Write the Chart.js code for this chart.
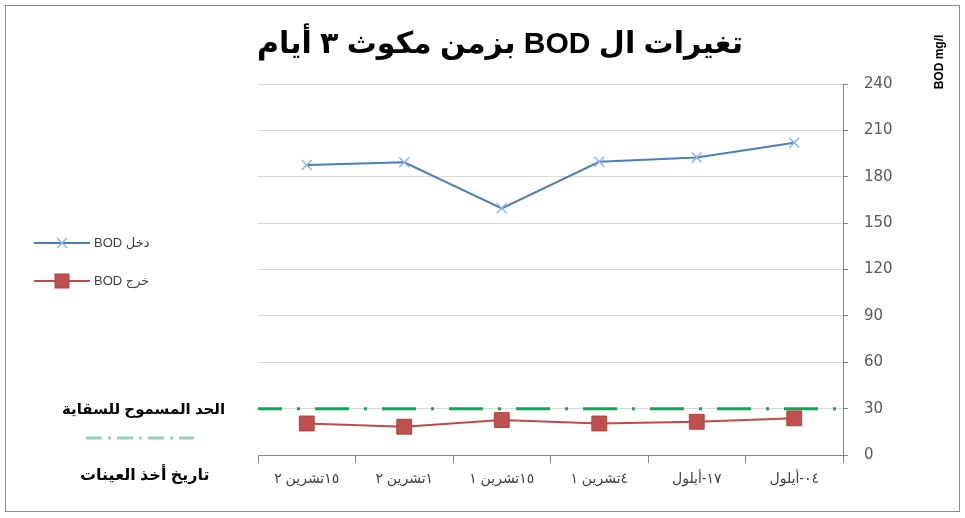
<!DOCTYPE html>
<html><head><meta charset="utf-8">
<script src="https://cdn.jsdelivr.net/npm/chart.js@4/dist/chart.umd.min.js"></script>
<style>
html,body{margin:0;padding:0;background:#fff;}
#wrap{position:relative;width:965px;height:518px;overflow:hidden;font-family:"Liberation Sans","DejaVu Sans",Arial,sans-serif;}
#frame{position:absolute;left:5px;top:5px;width:955px;height:507px;border:1px solid #8c8c8c;box-sizing:border-box;}
canvas{position:absolute;left:0;top:0;}
.t{position:absolute;white-space:nowrap;}
#title{left:190px;width:620px;top:25px;text-align:center;font-size:30px;font-weight:bold;color:#000;}
#unit{left:904px;top:55px;width:70px;font-size:12px;font-weight:bold;transform:rotate(-90deg);text-align:center;color:#000;}
.leg{font-size:13px;color:#404040;}
.side{font-weight:bold;color:#000;}
</style></head>
<body><div id="wrap">
<div id="frame"></div>
<canvas id="c" width="965" height="518"></canvas>
<div class="t" id="title" dir="rtl">تغيرات ال BOD بزمن مكوث ٣ أيام</div>
<div class="t" id="unit">BOD mg/l</div>
<svg class="t" style="left:30px;top:235px" width="62" height="60">
 <line x1="4" y1="8" x2="60" y2="8" stroke="#4a7ebb" stroke-width="2"/>
 <path d="M27 3 L37 13 M37 3 L27 13" stroke="#8eb4e3" stroke-width="1.5"/>
 <line x1="4" y1="46" x2="60" y2="46" stroke="#be4b48" stroke-width="2"/>
 <rect x="25" y="39" width="14" height="14" fill="#c0504d" stroke="#b04340"/>
</svg>
<div class="t leg" id="l1" dir="rtl" style="left:94px;top:235px">دخل BOD</div>
<div class="t leg" id="l2" dir="rtl" style="left:94px;top:273px">خرج BOD</div>
<div class="t side" dir="rtl" style="left:62px;top:400px;font-size:15px">الحد المسموح للسقاية</div>
<svg class="t" style="left:86px;top:434px" width="110" height="8">
 <line x1="0" y1="4" x2="108" y2="4" stroke="#8fd3c3" stroke-width="3" stroke-dasharray="16,6,3,6"/>
</svg>
<div class="t side" dir="rtl" style="left:80px;top:465px;font-size:16px">تاريخ أخذ العينات</div>
</div>
<script>
// chronological order (axis is drawn reversed, right to left)
const categories = ["٠٤-أيلول", "١٧-أيلول", "٤تشرين ١", "١٥تشرين ١", "١تشرين ٢", "١٥تشرين ٢"];
const bodIn  = [202, 192.5, 189.7, 159.6, 189.3, 187.6];
const bodOut = [23.7, 21.5, 20.4, 22.6, 18.3, 20.4];
const limit  = [30, 30, 30, 30, 30, 30];
const yTicks = [0, 30, 60, 90, 120, 150, 180, 210, 240];
const seriesLabels = ["دخل BOD", "خرج BOD", "الحد المسموح للسقاية"];

new Chart(document.getElementById('c'), {
  type: 'line',
  data: {
    labels: categories,
    datasets: [
      {label: seriesLabels[2], data: limit, xAxisID: 'x2', borderColor: '#00b050', borderWidth: 3,
       borderDash: [34, 15, 3, 15], borderDashOffset: 10, pointRadius: 0, order: 3},
      {label: seriesLabels[0], data: bodIn, borderColor: '#4a7ebb', borderWidth: 2,
       pointStyle: 'crossRot', pointRadius: 7, pointBorderColor: '#8eb4e3', pointBorderWidth: 1.5, order: 1},
      {label: seriesLabels[1], data: bodOut, borderColor: '#be4b48', borderWidth: 2,
       pointStyle: 'rect', pointRadius: 10.5, pointBackgroundColor: '#c0504d', pointBorderColor: '#b04340', pointBorderWidth: 1, order: 2}
    ]
  },
  options: {
    responsive: false, animation: false,
    layout: {padding: {left: 258, right: 62, top: 84, bottom: 0}},
    plugins: {legend: {display: false}, tooltip: {enabled: false}, title: {display: false}},
    scales: {
      x: {
        type: 'category', reverse: true, offset: true,
        grid: {drawOnChartArea: false, offset: true, tickLength: 8, color: '#868686'},
        border: {color: '#868686'},
        ticks: {color: '#404040', font: {size: 14, family: 'Liberation Sans, DejaVu Sans'}, padding: 8, maxRotation: 0},
        afterFit: s => { s.height = 63; }
      },
      x2: {
        type: 'category', labels: categories, offset: false, display: false
      },
      y: {
        position: 'right', min: 0, max: 240,
        afterBuildTicks: s => { s.ticks = yTicks.map(v => ({value: v})); },
        grid: {color: '#d9d9d9', tickLength: 5, tickColor: '#868686'},
        border: {color: '#868686'},
        ticks: {color: '#595959', font: {size: 15, family: 'DejaVu Sans'}, padding: 16},
        afterFit: s => { s.width = 60; }
      }
    }
  }
});
</script>
</body></html>
